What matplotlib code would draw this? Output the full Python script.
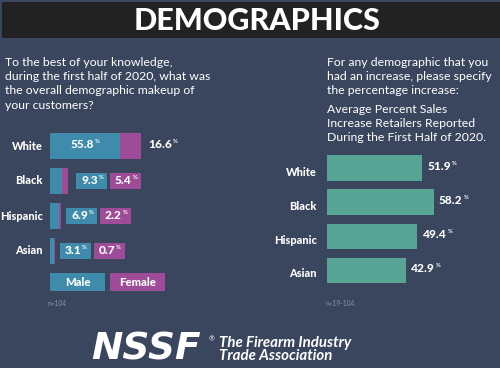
import matplotlib as mpl
mpl.use("Agg")
import matplotlib.pyplot as plt
from matplotlib.patches import Rectangle

# ---------------- data ----------------
groups = ["White", "Black", "Hispanic", "Asian"]
male = [55.8, 9.3, 6.9, 3.1]
female = [16.6, 5.4, 2.2, 0.7]
increase = [51.9, 58.2, 49.4, 42.9]
legend_labels = ["Male", "Female"]

BG = "#3a465e"
BAND = "#222222"
BLUE = "#3f8bab"
PINK = "#9e4c97"
TEAL = "#58a595"
FONT = "Lato"

W, H = 500, 368
fig = plt.figure(figsize=(W / 100, H / 100), dpi=100, facecolor=BG)


def fx(x):
    return x / W


def fy(y):
    return 1 - y / H


# header band
fig.patches.append(Rectangle((fx(2), fy(38)), 1, 36 / H, transform=fig.transFigure,
                             facecolor=BAND, edgecolor="none"))
fig.text(fx(257), fy(21), "DEMOGRAPHICS", ha="center", va="center", color="white",
         fontsize=22, fontweight="black", family=FONT)

# question texts
q_kw = dict(ha="left", va="top", color="white", fontsize=8.8, family=FONT, linespacing=1.36)
fig.text(fx(5), fy(57), "To the best of your knowledge,\nduring the first half of 2020, what was\n"
         "the overall demographic makeup of\nyour customers?", **q_kw)
fig.text(fx(327), fy(57), "For any demographic that you\nhad an increase, please specify\n"
         "the percentage increase:", **q_kw)
fig.text(fx(327), fy(104), "Average Percent Sales\nIncrease Retailers Reported\n"
         "During the First Half of 2020.", **q_kw)


def pct_label(ax, x, y, s, ha="left", color="white", size=8.6):
    t = ax.text(x, y, s, ha=ha, va="center", color=color, fontsize=size,
                fontweight="black", family=FONT)
    ax.annotate("%", xy=(1, 0.78), xycoords=t, xytext=(0.6, 0), textcoords="offset points",
                ha="left", va="center", color=color, fontsize=4.2, fontweight="bold", family=FONT)
    return t


# ---------------- left chart ----------------
PXL = 1.254  # px per percent
axl = fig.add_axes([fx(50), fy(296), 200 / W, 168 / H])
axl.set_xlim(0, 200 / PXL)
axl.set_ylim(4.286, -0.514)
axl.axis("off")
ypos = list(range(len(groups)))
axl.barh(ypos, male, height=0.74, color=BLUE, edgecolor="none")
axl.barh(ypos, female, left=male, height=0.74, color=PINK, edgecolor="none")
for i, g in enumerate(groups):
    fig.text(fx(43), fy(146 + 35 * i), g, ha="right", va="center", color="white",
             fontsize=7.9, fontweight="black", family=FONT)

box_w = 31 / PXL
box_h = 16 / 35
for i in ypos:
    end = male[i] + female[i]
    if i == 0:
        pct_label(axl, male[i] / 2 - 2, i - 0.05, f"{male[i]}", ha="center")
        pct_label(axl, end + 7 / PXL, i - 0.05, f"{female[i]}")
        continue
    gap = (8 if i == 1 else 5) / PXL
    for k, (val, col) in enumerate([(male[i], BLUE), (female[i], PINK)]):
        x0 = end + gap + k * 34 / PXL
        axl.add_patch(Rectangle((x0, i - box_h / 2), box_w, box_h, facecolor=col, edgecolor="none"))
        pct_label(axl, x0 + box_w / 2 - 2, i, f"{val}", ha="center")

# legend
for k, (lab, col) in enumerate(zip(legend_labels, [BLUE, PINK])):
    x0 = 50 + k * 60
    fig.patches.append(Rectangle((fx(x0), fy(291)), 55 / W, 18 / H, transform=fig.transFigure,
                                 facecolor=col, edgecolor="none"))
    fig.text(fx(x0 + 27.5), fy(282.5), lab, ha="center", va="center", color="white",
             fontsize=8.1, fontweight="black", family=FONT)

# ---------------- right chart ----------------
PXR = 1.83
axr = fig.add_axes([fx(327), fy(295), 170 / W, 144 / H])
axr.set_xlim(0, 170 / PXR)
axr.set_ylim(3.72, -0.5)
axr.axis("off")
axr.barh(ypos, increase, height=0.75, color=TEAL, edgecolor="none")
for i, g in enumerate(groups):
    fig.text(fx(317), fy(172.5 + 33.8 * i), g, ha="right", va="center", color="white",
             fontsize=7.9, fontweight="black", family=FONT)
    pct_label(axr, increase[i] + 5.5 / PXR, i - 0.05, f"{increase[i]}")

# sample sizes
fig.text(fx(48), fy(303), "n=104", ha="left", va="center", color="#8a92a3", fontsize=4.8, family=FONT)
fig.text(fx(326), fy(303), "n=19-104", ha="left", va="center", color="#8a92a3", fontsize=4.8, family=FONT)

# footer logo text
fig.text(fx(91), fy(350), "NSSF", ha="left", va="center", color="white", fontsize=27,
         fontweight="bold", fontstyle="italic", family="DejaVu Sans")
fig.text(fx(209), fy(339), "®", ha="left", va="center", color="white", fontsize=5, family=FONT)
fig.text(fx(219), fy(343), "The Firearm Industry", ha="left", va="center", color="white",
         fontsize=10.8, fontweight="bold", fontstyle="italic", family=FONT)
fig.text(fx(219), fy(356.5), "Trade Association", ha="left", va="center", color="white",
         fontsize=10.8, fontweight="bold", fontstyle="italic", family=FONT)

fig.savefig("out.png", dpi=100, facecolor=BG)
